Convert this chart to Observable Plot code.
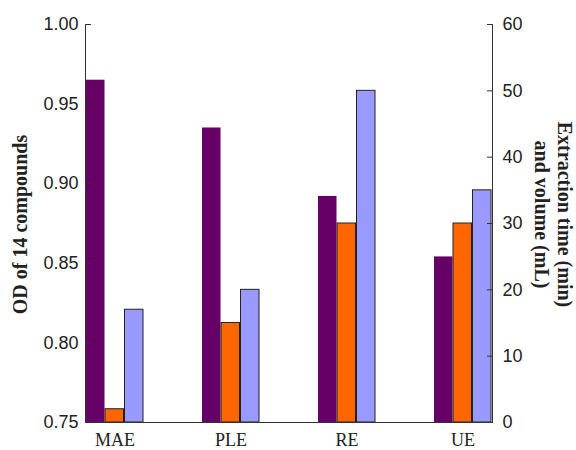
<!DOCTYPE html>
<html>
<head>
<meta charset="utf-8">
<script src="https://cdn.jsdelivr.net/npm/d3@7"></script>
<script src="https://cdn.jsdelivr.net/npm/@observablehq/plot@0.6"></script>
<style>
  html, body { margin: 0; padding: 0; background: #fff; }
</style>
</head>
<body>
<div id="chart"></div>
<script>
// ---- Data ----
const categories = ["MAE", "PLE", "RE", "UE"];
const odValues = [0.965, 0.935, 0.892, 0.854];      // left axis (OD of 14 compounds)
const timeValues = [2, 15, 30, 30];                 // right axis (orange)
const volumeValues = [17, 20, 50, 35];              // right axis (blue)
const leftTicks = [0.75, 0.80, 0.85, 0.90, 0.95, 1.00];
const rightTicks = [0, 10, 20, 30, 40, 50, 60];
const leftTitle = "OD of 14 compounds";
const rightTitle = "Extraction time (min)\nand volume (mL)";

// ---- dual-axis mapping (right 0–60 onto left 0.75–1.00) ----
const yMin = 0.75, yMax = 1.0, rMax = 60;
const toLeft = v => yMin + (v / rMax) * (yMax - yMin);
const toRight = y => Math.round((y - yMin) / (yMax - yMin) * rMax);

const odData = categories.map((c, i) => ({cat: c, y: odValues[i]}));
const timeData = categories.map((c, i) => ({cat: c, y: toLeft(timeValues[i])}));
const volData = categories.map((c, i) => ({cat: c, y: toLeft(volumeValues[i])}));

const serif = "'Liberation Serif', 'Times New Roman', serif";
const sans = "'Liberation Sans', Arial, sans-serif";
const axisColor = "#333";

const chart = Plot.plot({
  width: 576,
  height: 450,
  marginLeft: 85,
  marginRight: 84,
  marginTop: 24,
  marginBottom: 28,
  style: {fontFamily: sans, background: "#fff", color: "#222"},
  x: {domain: categories, paddingInner: 0.51, paddingOuter: 0, axis: null},
  y: {domain: [yMin, yMax], axis: null},
  marks: [
    Plot.barY(odData, {x: "cat", y1: yMin, y2: "y", fill: "#660066", insetLeft: 0, insetRight: 38.5}),
    Plot.barY(timeData, {x: "cat", y1: yMin, y2: "y", fill: "#ff6600", stroke: "#222", strokeWidth: 1, insetLeft: 19, insetRight: 19.5}),
    Plot.barY(volData, {x: "cat", y1: yMin, y2: "y", fill: "#9999ff", stroke: "#222", strokeWidth: 1, insetLeft: 38.5, insetRight: 0}),
    Plot.frame({anchor: "left", stroke: axisColor}),
    Plot.frame({anchor: "right", stroke: axisColor}),
    Plot.frame({anchor: "bottom", stroke: axisColor}),
    Plot.axisY({anchor: "left", ticks: leftTicks, tickFormat: d3.format(".2f"), tickSize: -6, tickPadding: 13, fontSize: 18, fontFamily: sans, stroke: axisColor, label: null}),
    Plot.axisY({anchor: "right", ticks: rightTicks.map(toLeft), tickFormat: d => String(toRight(d)), tickSize: -6, tickPadding: 16, fontSize: 18, fontFamily: sans, stroke: axisColor, label: null}),
    Plot.axisX({anchor: "bottom", tickSize: 0, tickPadding: 11, fontSize: 18, fontFamily: serif, label: null}),
    Plot.text([leftTitle], {text: d => d, frameAnchor: "left", textAnchor: "middle", dx: -65, dy: 1, rotate: -90, fontFamily: serif, fontWeight: "bold", fontSize: 20, fill: "#222"}),
    Plot.text([rightTitle], {text: d => d, frameAnchor: "right", textAnchor: "middle", dx: 61, dy: -9, rotate: 90, lineAnchor: "middle", lineHeight: 1.15, fontFamily: serif, fontWeight: "bold", fontSize: 20, fill: "#222"})
  ]
});

document.getElementById("chart").appendChild(chart);
</script>
</body>
</html>
